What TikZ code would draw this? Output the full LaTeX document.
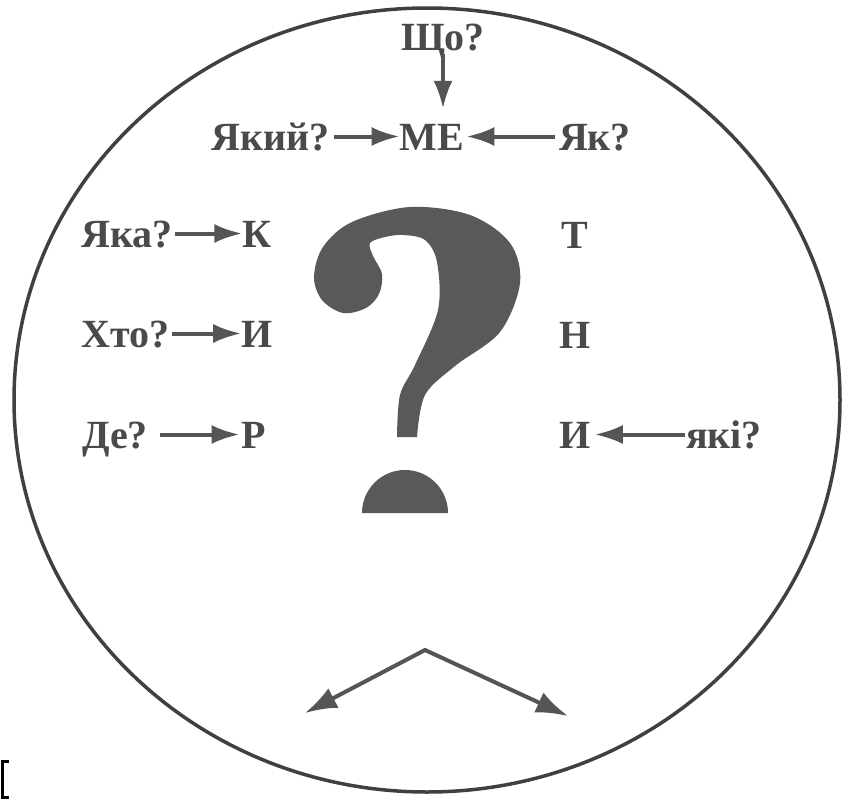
\documentclass[tikz,border=0pt]{standalone}
\usepackage{fontspec}
\setmainfont{Liberation Serif}
\usetikzlibrary{arrows.meta}
\definecolor{tcol}{HTML}{4A4A4A}
\definecolor{acol}{HTML}{555555}
\definecolor{qcol}{HTML}{595959}
\definecolor{ccol}{HTML}{404040}
\begin{document}
\begin{tikzpicture}[x=1pt,y=-1pt,
  lbl/.style={font=\bfseries\fontsize{40}{48}\selectfont, text=tcol, inner sep=0pt, text height=27pt, text depth=0pt, anchor=base},
  arr/.style={-{Latex[length=28pt,width=19pt]}, line width=4pt, draw=acol},
  bigarr/.style={{Latex[length=32pt,width=22pt]}-{Latex[length=32pt,width=22pt]}, line width=4pt, draw=acol, line join=round},
  ring/.style={draw=ccol, line width=3.5pt}]
\useasboundingbox (0,0) rectangle (843,800);
\fill[white] (0,0) rectangle (843,800);
% circle
\draw[ring] (427,400) ellipse [x radius=413pt, y radius=392pt];
% labels
\node[lbl] (sho) at (443,51) {Що?};
\node[lbl] (yakyi) at (271,150) {Який?};
\node[lbl] (ME) at (432,150) {МЕ};
\node[lbl] (yak) at (595,150) {Як?};
\node[lbl] (yaka) at (127,247) {Яка?};
\node[lbl] (K) at (257,247) {К};
\node[lbl] (khto) at (126,347) {Хто?};
\node[lbl] (Y1) at (257,347) {И};
\node[lbl] (de) at (115,448) {Де?};
\node[lbl] (R) at (254,448) {Р};
\node[lbl] (T) at (575,248) {Т};
\node[lbl] (N) at (575,348) {Н};
\node[lbl] (Y2) at (575,448) {И};
\node[lbl] (yaki) at (724,448) {які?};
% arrows
\draw[arr, shorten <=3pt, shorten >=14pt] (sho.south) -- (sho.south |- ME.north);
\draw[arr, shorten <=4pt] (yakyi.east) -- (ME.west);
\draw[arr, shorten <=4pt, shorten >=2pt] (yak.west) -- (ME.east);
\draw[arr, shorten <=2pt] (yaka.east) -- (K.west);
\draw[arr, shorten <=2pt] (khto.east) -- (Y1.west);
\draw[arr, shorten <=12pt, shorten >=2pt] (de.east) -- (R.west);
\draw[arr, shorten <=1pt, shorten >=4pt] (yaki.west) -- (Y2.east);
% question mark
\fill[qcol] (417,437) -- (397,437) -- plot[smooth,tension=0.55] coordinates {(397,437) (400,395) (415,365) (438,310) (437,262) (425,240) (403,235) (385,237) (370,243) (373,256) (382,274) (379,294) (366,308) (343,313) (322,300) (314,277) (323,247) (352,222) (410,207) (470,215) (510,243) (520,283) (500,332) (455,366) (425,395) (417,437)} -- cycle;
\fill[qcol] (362,513) arc[start angle=180, end angle=0, radius=43pt] -- cycle;
% bottom arrows
\coordinate (apex) at (425,650);
\coordinate (tl) at (305,713);
\coordinate (tr) at (568,716);
\draw[bigarr] (tl) -- (apex) -- (tr);
% bracket at corner
\draw[black, line width=3pt] (9,761) -- (2,761) -- (2,797) -- (9,797);
\end{tikzpicture}
\end{document}
